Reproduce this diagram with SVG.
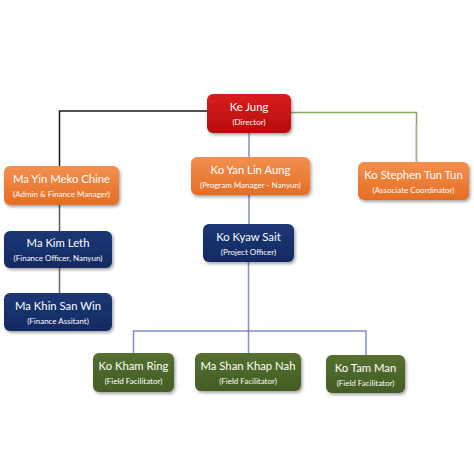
<svg xmlns="http://www.w3.org/2000/svg" width="474" height="474" viewBox="0 0 474 474">
<defs>
<linearGradient id="gRed" x1="0" y1="0" x2="0" y2="1"><stop offset="0" stop-color="#d81d1d"/><stop offset="1" stop-color="#b80c0c"/></linearGradient>
<linearGradient id="gOr" x1="0" y1="0" x2="0" y2="1"><stop offset="0" stop-color="#f39050"/><stop offset="1" stop-color="#e56d22"/></linearGradient>
<linearGradient id="gNv" x1="0" y1="0" x2="0" y2="1"><stop offset="0" stop-color="#1c3775"/><stop offset="1" stop-color="#132a62"/></linearGradient>
<linearGradient id="gGr" x1="0" y1="0" x2="0" y2="1"><stop offset="0" stop-color="#54702f"/><stop offset="1" stop-color="#435c24"/></linearGradient>
<filter id="sh" x="-10%" y="-10%" width="125%" height="135%"><feDropShadow dx="1.5" dy="2" stdDeviation="1.5" flood-color="#000" flood-opacity="0.35"/></filter>
</defs>
<style>
.box{filter:url(#sh)}
.n{font-family:Lato,"Open Sans","Liberation Sans",sans-serif;font-size:11.3px;fill:#fff;text-anchor:middle}
.s{font-family:Lato,"Open Sans","Liberation Sans",sans-serif;font-size:8px;fill:#fff;text-anchor:middle}
.c{fill:none;stroke-width:1.5}
</style>
<rect width="474" height="474" fill="#fff"/>
<g id="connectors">
<path class="c" d="M207 111 H59.5 V166" stroke="#1a1a1a"/>
<path class="c" d="M291 112.5 H416.5 V162" stroke="#8aa865"/>
<path class="c" d="M416.5 125 V162" stroke="#a9b79c"/>
<path class="c" d="M249 133 V157" stroke="#7f8fc8"/>
<path class="c" d="M249 195 V224" stroke="#7f8fc8"/>
<path class="c" d="M59.5 205 V231" stroke="#555"/>
<path class="c" d="M59.5 268 V293" stroke="#666"/>
<path class="c" d="M248.5 262 V353 M133.5 353 V331 H366 V355" stroke="#7f8fc8"/>
</g>
<g id="ke-jung"><rect class="box" x="207" y="94" width="84" height="39" rx="6" fill="url(#gRed)"/><text class="n" x="249" y="111">Ke Jung</text><text class="s" x="249" y="125">(Director)</text></g>
<g id="ma-yin-meko-chine"><rect class="box" x="4" y="166" width="115" height="39" rx="6" fill="url(#gOr)"/><text class="n" x="61.5" y="183">Ma Yin Meko Chine</text><text class="s" x="61.5" y="197">(Admin &amp; Finance Manager)</text></g>
<g id="ko-yan-lin-aung"><rect class="box" x="191" y="157" width="119" height="38" rx="6" fill="url(#gOr)"/><text class="n" x="250.5" y="174">Ko Yan Lin Aung</text><text class="s" x="250.5" y="188">(Program Manager - Nanyun)</text></g>
<g id="ko-stephen-tun-tun"><rect class="box" x="358" y="162" width="111" height="38" rx="6" fill="url(#gOr)"/><text class="n" x="413.5" y="179">Ko Stephen Tun Tun</text><text class="s" x="413.5" y="193">(Associate Coordinator)</text></g>
<g id="ma-kim-leth"><rect class="box" x="4" y="231" width="108" height="37" rx="6" fill="url(#gNv)"/><text class="n" x="58" y="247">Ma Kim Leth</text><text class="s" x="58" y="261">(Finance Officer, Nanyun)</text></g>
<g id="ma-khin-san-win"><rect class="box" x="4" y="293" width="108" height="38" rx="6" fill="url(#gNv)"/><text class="n" x="58" y="310">Ma Khin San Win</text><text class="s" x="58" y="324">(Finance Assitant)</text></g>
<g id="ko-kyaw-sait"><rect class="box" x="203" y="224" width="91" height="38" rx="6" fill="url(#gNv)"/><text class="n" x="248.5" y="241">Ko Kyaw Sait</text><text class="s" x="248.5" y="255">(Project Officer)</text></g>
<g id="ko-kham-ring"><rect class="box" x="93" y="353" width="81" height="39" rx="6" fill="url(#gGr)"/><text class="n" x="133.5" y="370">Ko Kham Ring</text><text class="s" x="133.5" y="384">(Field Facilitator)</text></g>
<g id="ma-shan-khap-nah"><rect class="box" x="195" y="353" width="106" height="38" rx="6" fill="url(#gGr)"/><text class="n" x="248" y="370">Ma Shan Khap Nah</text><text class="s" x="248" y="384">(Field Facilitator)</text></g>
<g id="ko-tam-man"><rect class="box" x="326" y="355" width="79" height="38" rx="6" fill="url(#gGr)"/><text class="n" x="365.5" y="372">Ko Tam Man</text><text class="s" x="365.5" y="386">(Field Facilitator)</text></g>
</svg>
